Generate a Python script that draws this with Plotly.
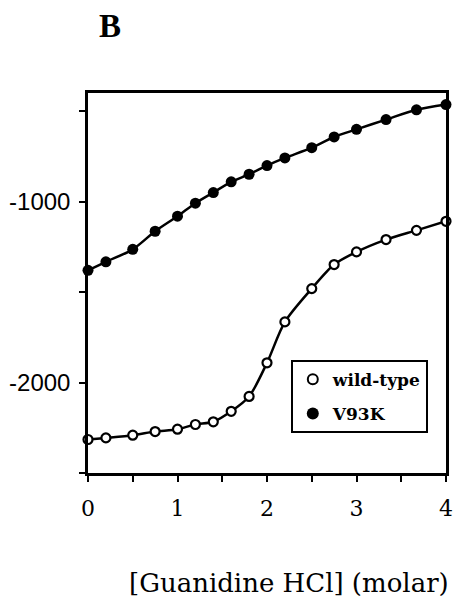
import plotly.graph_objects as go

# Data
gdn = [0, 0.2, 0.5, 0.75, 1.0, 1.2, 1.4, 1.6, 1.8, 2.0, 2.2, 2.5, 2.75, 3.0, 3.33, 3.67, 4.0]
wild_type = [-2315, -2306, -2291, -2271, -2258, -2232, -2217, -2159, -2077, -1891,
             -1665, -1481, -1348, -1278, -1210, -1159, -1109]
v93k = [-1380, -1333, -1264, -1164, -1081, -1009, -950, -891, -849, -801,
        -759, -702, -643, -601, -547, -493, -464]

x_tickvals = [0, 0.5, 1, 1.5, 2, 2.5, 3, 3.5, 4]
x_ticktext = ["0", "", "1", "", "2", "", "3", "", "4"]
y_tickvals = [-2500, -2000, -1500, -1000, -500]
y_ticktext = ["", "-2000", "", "-1000", ""]

fig = go.Figure()

fig.add_trace(go.Scatter(
    x=gdn, y=v93k, mode="lines+markers", showlegend=False,
    line=dict(color="black", width=2.5, shape="spline", smoothing=0.8),
    marker=dict(symbol="circle", size=11, color="black"),
    cliponaxis=False))
fig.add_trace(go.Scatter(
    x=gdn, y=wild_type, mode="lines+markers", showlegend=False,
    line=dict(color="black", width=2.5, shape="spline", smoothing=0.8),
    marker=dict(symbol="circle", size=9, color="white", line=dict(color="black", width=2.2)),
    cliponaxis=False))

# legend entries
fig.add_trace(go.Scatter(
    x=[None], y=[None], mode="markers", name="wild-type", legendgroup="a",
    marker=dict(symbol="circle", size=10, color="white", line=dict(color="black", width=2))))
fig.add_trace(go.Scatter(
    x=[None], y=[None], mode="markers", name="V93K", legendgroup="b",
    marker=dict(symbol="circle", size=12, color="black")))

fig.update_layout(
    width=455, height=597,
    margin=dict(l=88, r=9, t=93, b=124, autoexpand=False),
    paper_bgcolor="white", plot_bgcolor="white",
    showlegend=True,
    legend=dict(
        x=(291 - 88) / 358, y=(473 - 360) / 380, xanchor="left", yanchor="top",
        bgcolor="white", bordercolor="black", borderwidth=1.8,
        font=dict(family="DejaVu Serif", size=17, color="black", weight="bold"),
        tracegroupgap=9, itemwidth=30,
    ),
    xaxis=dict(
        range=[0, 4], tickvals=x_tickvals, ticktext=x_ticktext,
        ticks="outside", ticklen=6, tickwidth=2, tickcolor="black",
        showline=True, linecolor="black", linewidth=2.5, mirror=True,
        showgrid=False, zeroline=False, automargin=False,
        ticklabelstandoff=8,
        tickfont=dict(family="DejaVu Serif", size=22, color="black"),
    ),
    yaxis=dict(
        range=[-2500, -400], tickvals=y_tickvals, ticktext=y_ticktext,
        ticks="outside", ticklen=6, tickwidth=2, tickcolor="black",
        showline=True, linecolor="black", linewidth=2.5, mirror=True,
        showgrid=False, zeroline=False, automargin=False,
        ticklabelstandoff=4,
        tickfont=dict(family="Liberation Sans", size=24, color="black"),
    ),
    annotations=[
        dict(text="<b>B</b>", xref="paper", yref="paper", x=(110 - 88) / 358, y=1 + (93 - 26) / 380,
             xanchor="center", yanchor="middle", showarrow=False,
             font=dict(family="Liberation Serif", size=33, color="black")),
        dict(text="[Guanidine HCl] (molar)", xref="paper", yref="paper",
             x=(451 - 88) / 358, y=-(583 - 473) / 380, xanchor="right", yanchor="middle",
             showarrow=False, font=dict(family="DejaVu Serif", size=26, color="black")),
    ],
)

fig.write_html("out.html")
